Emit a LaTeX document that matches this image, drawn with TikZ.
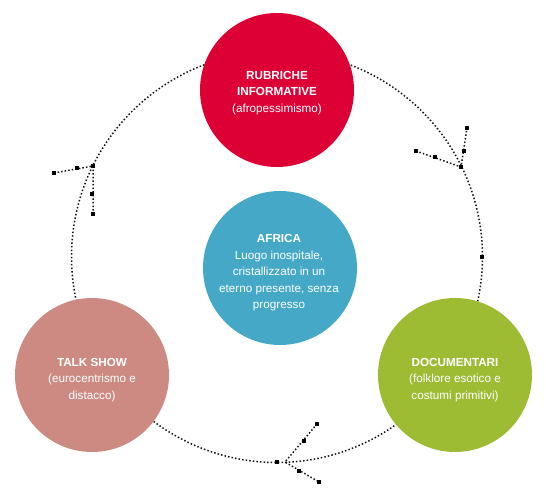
\documentclass[tikz,border=0pt]{standalone}
\usepackage{fontspec}
\setmainfont{Liberation Sans}
\definecolor{cred}{RGB}{221,0,52}
\definecolor{cblue}{RGB}{69,168,199}
\definecolor{cpink}{RGB}{205,138,131}
\definecolor{cgreen}{RGB}{157,188,52}
\definecolor{dotcol}{RGB}{20,20,20}
\tikzset{
  dotline/.style={draw=dotcol, line width=1.5pt, dash pattern=on 1.5pt off 2.1pt},
  disc/.style={circle, inner sep=0pt, minimum size=154pt, draw=none},
  lbl/.style={text=white, align=center, font=\fontsize{11.7}{16.5}\selectfont},
  sq/.style={rectangle, fill=black, inner sep=0pt, minimum size=3.2pt}
}
\begin{document}
\begin{tikzpicture}[x=1pt,y=-1pt]
\useasboundingbox (0,0) rectangle (546,502);
% main cycle
\coordinate (cc) at (277,257);
\draw[dotline] (cc) circle[radius=205.5];
% arrowheads
\coordinate (jtr) at (461,167);
\coordinate (tra) at (416,151);
\coordinate (trb) at (467,128);
\draw[dotline] (tra) -- (jtr) -- (trb);
\coordinate (jl) at (93,166);
\coordinate (la) at (54,173);
\coordinate (lb) at (93,214);
\draw[dotline] (la) -- (jl) -- (lb);
\coordinate (jb) at (285,462);
\coordinate (ba) at (317,424);
\coordinate (bb) at (319,482);
\draw[dotline] (ba) -- (jb) -- (bb);
% markers
\node[sq] (m1) at (tra) {};
\node[sq] (m2) at (trb) {};
\node[sq] (m3) at (435,157) {};
\node[sq] (m4) at (464,151) {};
\node[sq] (m5) at (jtr) {};
\node[sq] (m6) at (la) {};
\node[sq] (m7) at (lb) {};
\node[sq] (m8) at (77,168) {};
\node[sq] (m9) at (92,194) {};
\node[sq] (m10) at (jl) {};
\node[sq] (m11) at (ba) {};
\node[sq] (m12) at (bb) {};
\node[sq] (m13) at (304,441) {};
\node[sq] (m14) at (299,471) {};
\node[sq] (m15) at (277,462) {};
\node[sq] (m16) at (482,257) {};
% discs
\node[disc, fill=cred] (red) at (277,90) {};
\node[disc, fill=cblue] (blue) at (280,268) {};
\node[disc, fill=cpink] (pink) at (92,375) {};
\node[disc, fill=cgreen] (green) at (455,375) {};
% labels
\node[lbl] (redt) at (277,93) {\textbf{RUBRICHE}\\\textbf{INFORMATIVE}\\(afropessimismo)};
\node[lbl] (bluet) at (279,273) {\textbf{AFRICA}\\Luogo inospitale,\\cristallizzato in un\\eterno presente, senza\\progresso};
\node[lbl] (pinkt) at (92,380) {\textbf{TALK SHOW}\\(eurocentrismo e\\distacco)};
\node[lbl] (greent) at (455,380) {\textbf{DOCUMENTARI}\\(folklore esotico e\\costumi primitivi)};
\end{tikzpicture}
\end{document}
